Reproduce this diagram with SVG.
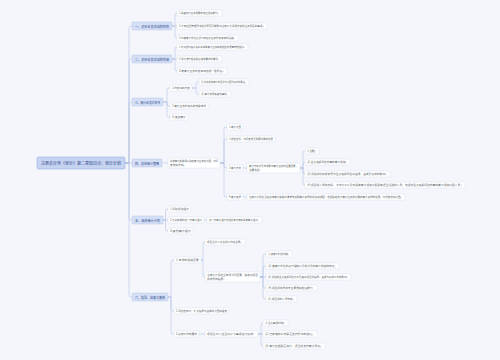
<svg xmlns="http://www.w3.org/2000/svg" width="500" height="360" viewBox="0 0 500 360">
<style>
text{font-family:"Noto Sans CJK SC","Noto Sans",sans-serif;dominant-baseline:central}
.root rect{fill:#c6d3f1;stroke:#8fa6dc;stroke-width:.5}
.root text{fill:#2e4a8c;font-size:4px}
.l1 rect{fill:#d5dff5;stroke:#aebfe6;stroke-width:.4}
.l1 text{fill:#2e4a8c;font-size:3.4px}
.lf rect{fill:#fff;stroke:#cdd5e6;stroke-width:.35}
.lf text{fill:#5a5f6b;font-size:2.8px}
.conn path{fill:none;stroke:#a9b9dc;stroke-width:.5}
</style>
<rect width="500" height="360" fill="#f4f6fb"/>
<g class="conn" id="connectors">
<path d="M125,163 H129 V28 Q129,26 131,26 H132"/>
<path d="M125,163 H129 V61 Q129,59 131,59 H132"/>
<path d="M125,163 H129 V104 Q129,102 131,102 H132"/>
<path d="M125,163 H132"/>
<path d="M125,163 H129 V218 Q129,220 131,220 H132"/>
<path d="M125,163 H129 V295 Q129,297 131,297 H132"/>
<path d="M172,26 H175 V15 Q175,13 177,13"/>
<path d="M172,26 H177"/>
<path d="M172,26 H175 V36 Q175,38 177,38"/>
<path d="M172,59 H175 V49 Q175,47 177,47"/>
<path d="M172,59 H177"/>
<path d="M172,59 H175 V69 Q175,71 177,71"/>
<path d="M163,102 H167 V90 Q167,88 169,88 H170"/>
<path d="M163,102 H167 V104 Q167,106 169,106 H170"/>
<path d="M163,102 H167 V115 Q167,117 169,117 H170"/>
<path d="M192,88 H196 V84 Q196,82 198,82 H199"/>
<path d="M192,88 H196 V92 Q196,94 198,94 H199"/>
<path d="M162,163 H168"/>
<path d="M220,163 H224 V129 Q224,127 226,127 H227"/>
<path d="M220,163 H224 V141 Q224,139 226,139 H227"/>
<path d="M220,163 H224 V166 Q224,168 226,168 H227"/>
<path d="M220,163 H224 V195 Q224,197 226,197 H227"/>
<path d="M243,168 H247"/>
<path d="M300,168 H303 V153 Q303,151 305,151"/>
<path d="M300,168 H303 V164 Q303,162 305,162"/>
<path d="M300,168 H303 V172 Q303,174 305,174"/>
<path d="M300,168 H303 V183 Q303,185 305,185"/>
<path d="M243,197 H247"/>
<path d="M163,220 H165.5 V211 Q165.5,209 167.5,209 H168"/>
<path d="M163,220 H168"/>
<path d="M163,220 H165.5 V229 Q165.5,231 167.5,231 H168"/>
<path d="M204,220 H207"/>
<path d="M168,297 H171 V262 Q171,260 173,260 H174"/>
<path d="M168,297 H171 V309 Q171,311 173,311 H174"/>
<path d="M168,297 H171 V332 Q171,334 173,334 H174"/>
<path d="M201,260 H203 V244 Q203,242 205,242"/>
<path d="M201,260 H203 V275 Q203,277 205,277"/>
<path d="M260,277 H263 V256 Q263,254 265,254 H266"/>
<path d="M260,277 H263 V268 Q263,266 265,266 H266"/>
<path d="M260,277 H266"/>
<path d="M260,277 H263 V286 Q263,288 265,288 H266"/>
<path d="M260,277 H263 V297 Q263,299 265,299 H266"/>
<path d="M199,334 H205"/>
<path d="M258,334 H261 V325 Q261,323 263,323"/>
<path d="M258,334 H263"/>
<path d="M258,334 H261 V344 Q261,346 263,346"/>
</g>
<g id="root" class="root"><rect x="37" y="157" width="88" height="12" rx="1.5"/><text x="41" y="163" textLength="80" lengthAdjust="spacingAndGlyphs">注册会计师《审计》第二章知识点：审计计划</text></g>
<g id="b1" class="l1"><rect x="132" y="22" width="40" height="8" rx="1"/><text x="135" y="26" textLength="34" lengthAdjust="spacingAndGlyphs">一、初步业务活动的目的</text></g>
<g id="b1c1" class="lf"><rect x="177" y="10" width="45" height="6" rx="1"/><text x="179" y="13" textLength="41" lengthAdjust="spacingAndGlyphs">1.具备执行业务所需的独立性和能力。</text></g>
<g id="b1c2" class="lf"><rect x="177" y="23" width="90" height="6" rx="1"/><text x="179" y="26" textLength="86" lengthAdjust="spacingAndGlyphs">2.不存在因管理层诚信问题而可能影响注册会计师保持该项业务意愿的事项。</text></g>
<g id="b1c3" class="lf"><rect x="177" y="35" width="61" height="6" rx="1"/><text x="179" y="38" textLength="57" lengthAdjust="spacingAndGlyphs">3.与被审计单位之间不存在对业务约定条款的误解。</text></g>
<g id="b2" class="l1"><rect x="132" y="55" width="40" height="8" rx="1"/><text x="135" y="59" textLength="34" lengthAdjust="spacingAndGlyphs">二、初步业务活动的内容</text></g>
<g id="b2c1" class="lf"><rect x="177" y="44" width="71" height="6" rx="1"/><text x="179" y="47" textLength="67" lengthAdjust="spacingAndGlyphs">1.针对保持客户关系和具体审计业务实施相应的质量管理程序。</text></g>
<g id="b2c2" class="lf"><rect x="177" y="56" width="45" height="6" rx="1"/><text x="179" y="59" textLength="41" lengthAdjust="spacingAndGlyphs">2.评价遵守相关职业道德要求的情况。</text></g>
<g id="b2c3" class="lf"><rect x="177" y="68" width="50" height="6" rx="1"/><text x="179" y="71" textLength="46" lengthAdjust="spacingAndGlyphs">3.就审计业务约定条款达成一致意见。</text></g>
<g id="b3" class="l1"><rect x="132" y="98" width="31" height="8" rx="1"/><text x="135" y="102" textLength="25" lengthAdjust="spacingAndGlyphs">三、审计业务约定书</text></g>
<g id="b3c1" class="lf"><rect x="170" y="85" width="22" height="6" rx="1"/><text x="172" y="88" textLength="18" lengthAdjust="spacingAndGlyphs">1.约定书的内容</text></g>
<g id="b3c1a" class="lf"><rect x="199" y="79" width="50" height="6" rx="1"/><text x="201" y="82" textLength="46" lengthAdjust="spacingAndGlyphs">(1) 财务报表审计的目标与范围及双方的责任。</text></g>
<g id="b3c1b" class="lf"><rect x="199" y="91" width="32" height="6" rx="1"/><text x="201" y="94" textLength="28" lengthAdjust="spacingAndGlyphs">(2) 审计收费等其他事项。</text></g>
<g id="b3c2" class="lf"><rect x="170" y="103" width="38" height="6" rx="1"/><text x="172" y="106" textLength="34" lengthAdjust="spacingAndGlyphs">2.审计业务约定书的特殊考虑</text></g>
<g id="b3c3" class="lf"><rect x="170" y="114" width="18" height="6" rx="1"/><text x="172" y="117" textLength="14" lengthAdjust="spacingAndGlyphs">3.连续审计</text></g>
<g id="b4" class="l1"><rect x="132" y="159" width="30" height="8" rx="1"/><text x="135" y="163" textLength="24" lengthAdjust="spacingAndGlyphs">四、总体审计策略</text></g>
<g id="b4d" class="lf"><rect x="168" y="158" width="52" height="10" rx="1"/><text x="170" y="161" textLength="48" lengthAdjust="spacingAndGlyphs">总体审计策略用以确定审计业务的范围、时间</text><text x="170" y="165.2" textLength="16" lengthAdjust="spacingAndGlyphs">安排和方向。</text></g>
<g id="b4e1" class="lf"><rect x="227" y="124" width="16" height="6" rx="1"/><text x="229" y="127" textLength="12" lengthAdjust="spacingAndGlyphs">1.审计范围</text></g>
<g id="b4e2" class="lf"><rect x="227" y="136" width="48" height="6" rx="1"/><text x="229" y="139" textLength="44" lengthAdjust="spacingAndGlyphs">2.报告目标、时间安排及所需沟通的性质</text></g>
<g id="b4e3" class="lf"><rect x="227" y="165" width="16" height="6" rx="1"/><text x="229" y="168" textLength="12" lengthAdjust="spacingAndGlyphs">3.审计方向</text></g>
<g id="b4f" class="lf"><rect x="247" y="163" width="53" height="10" rx="1"/><text x="249" y="166" textLength="49" lengthAdjust="spacingAndGlyphs">审计方向涉及考虑影响审计业务的重要因素，</text><text x="249" y="170.2" textLength="13" lengthAdjust="spacingAndGlyphs">主要包括：</text></g>
<g id="b4f1" class="lf"><rect x="305" y="148" width="14" height="6" rx="1"/><text x="307" y="151" textLength="10" lengthAdjust="spacingAndGlyphs">(1) 重要性；</text></g>
<g id="b4f2" class="lf"><rect x="305" y="159" width="45" height="6" rx="1"/><text x="307" y="162" textLength="41" lengthAdjust="spacingAndGlyphs">(2) 重大错报风险较高的审计领域；</text></g>
<g id="b4f3" class="lf"><rect x="305" y="171" width="85" height="6" rx="1"/><text x="307" y="174" textLength="81" lengthAdjust="spacingAndGlyphs">(3) 评估的财务报表层次重大错报风险对指导、监督及复核的影响；</text></g>
<g id="b4f4" class="lf"><rect x="305" y="182" width="160" height="6" rx="1"/><text x="307" y="185" textLength="156" lengthAdjust="spacingAndGlyphs">(4) 项目组人员的选择、工作分工以及向具体审计领域分配具有适当经验的人员，包括向重大错报风险较高的审计领域分配人员；</text></g>
<g id="b4e4" class="lf"><rect x="227" y="194" width="16" height="6" rx="1"/><text x="229" y="197" textLength="12" lengthAdjust="spacingAndGlyphs">4.审计资源</text></g>
<g id="b4g" class="lf"><rect x="247" y="194" width="158" height="6" rx="1"/><text x="249" y="197" textLength="154" lengthAdjust="spacingAndGlyphs">注册会计师应当在总体审计策略中清楚地说明审计资源的规划和调配，包括确定执行审计业务所必需的审计资源的性质、时间安排和范围。</text></g>
<g id="b5" class="l1"><rect x="132" y="216" width="31" height="8" rx="1"/><text x="135" y="220" textLength="25" lengthAdjust="spacingAndGlyphs">五、具体审计计划</text></g>
<g id="b5k1" class="lf"><rect x="168" y="206" width="23" height="6" rx="1"/><text x="170" y="209" textLength="19" lengthAdjust="spacingAndGlyphs">1.风险评估程序</text></g>
<g id="b5k2" class="lf"><rect x="168" y="217" width="36" height="6" rx="1"/><text x="170" y="220" textLength="32" lengthAdjust="spacingAndGlyphs">2.计划实施的进一步审计程序</text></g>
<g id="b5k2a" class="lf"><rect x="207" y="217" width="55" height="6" rx="1"/><text x="209" y="220" textLength="51" lengthAdjust="spacingAndGlyphs">进一步审计程序包括总体方案和具体审计程序。</text></g>
<g id="b5k3" class="lf"><rect x="168" y="228" width="25" height="6" rx="1"/><text x="170" y="231" textLength="21" lengthAdjust="spacingAndGlyphs">3.其他审计程序</text></g>
<g id="b6" class="l1"><rect x="132" y="293" width="36" height="8" rx="1"/><text x="135" y="297" textLength="30" lengthAdjust="spacingAndGlyphs">六、指导、监督与复核</text></g>
<g id="b6h1" class="lf"><rect x="174" y="257" width="27" height="6" rx="1"/><text x="176" y="260" textLength="23" lengthAdjust="spacingAndGlyphs">1.考虑的相关因素</text></g>
<g id="b6i1" class="lf"><rect x="205" y="239" width="40" height="6" rx="1"/><text x="207" y="242" textLength="36" lengthAdjust="spacingAndGlyphs">项目合伙人对此项工作负总责。</text></g>
<g id="b6i2" class="lf"><rect x="205" y="272" width="55" height="10" rx="1"/><text x="207" y="275" textLength="51" lengthAdjust="spacingAndGlyphs">注册会计师应当考虑下列因素，确定对项目</text><text x="207" y="279.2" textLength="19" lengthAdjust="spacingAndGlyphs">组成员的指导：</text></g>
<g id="b6i2a" class="lf"><rect x="266" y="251" width="26" height="6" rx="1"/><text x="268" y="254" textLength="22" lengthAdjust="spacingAndGlyphs">(1) 被审计单位的规模；</text></g>
<g id="b6i2b" class="lf"><rect x="266" y="263" width="73" height="6" rx="1"/><text x="268" y="266" textLength="69" lengthAdjust="spacingAndGlyphs">(2) 被审计单位的复杂程度以及所涉及的审计领域的特点；</text></g>
<g id="b6i2c" class="lf"><rect x="266" y="274" width="85" height="6" rx="1"/><text x="268" y="277" textLength="81" lengthAdjust="spacingAndGlyphs">(3) 评估的重大错报风险水平及其对项目组指导、监督与复核工作的影响；</text></g>
<g id="b6i2d" class="lf"><rect x="266" y="285" width="51" height="6" rx="1"/><text x="268" y="288" textLength="47" lengthAdjust="spacingAndGlyphs">(4) 项目组成员的专业素质和胜任能力；</text></g>
<g id="b6i2e" class="lf"><rect x="266" y="296" width="31" height="6" rx="1"/><text x="268" y="299" textLength="27" lengthAdjust="spacingAndGlyphs">(5) 项目组的人员构成。</text></g>
<g id="b6h2" class="lf"><rect x="174" y="308" width="55" height="6" rx="1"/><text x="176" y="311" textLength="51" lengthAdjust="spacingAndGlyphs">2.风险增加时，扩大指导与监督的范围和程度</text></g>
<g id="b6h3" class="lf"><rect x="174" y="331" width="25" height="6" rx="1"/><text x="176" y="334" textLength="21" lengthAdjust="spacingAndGlyphs">3.复核工作的要求</text></g>
<g id="b6j" class="lf"><rect x="205" y="331" width="53" height="6" rx="1"/><text x="207" y="334" textLength="49" lengthAdjust="spacingAndGlyphs">项目合伙人应当对以下事项进行复核：</text></g>
<g id="b6j1" class="lf"><rect x="263" y="320" width="25" height="6" rx="1"/><text x="265" y="323" textLength="21" lengthAdjust="spacingAndGlyphs">(1) 重大事项的判断；</text></g>
<g id="b6j2" class="lf"><rect x="263" y="331" width="54" height="6" rx="1"/><text x="265" y="334" textLength="50" lengthAdjust="spacingAndGlyphs">(2) 已实施的工作是否支持得出的结论；</text></g>
<g id="b6j3" class="lf"><rect x="263" y="343" width="62" height="6" rx="1"/><text x="265" y="346" textLength="58" lengthAdjust="spacingAndGlyphs">(3) 审计证据是否充分、适当并支持审计意见。</text></g>
</svg>
